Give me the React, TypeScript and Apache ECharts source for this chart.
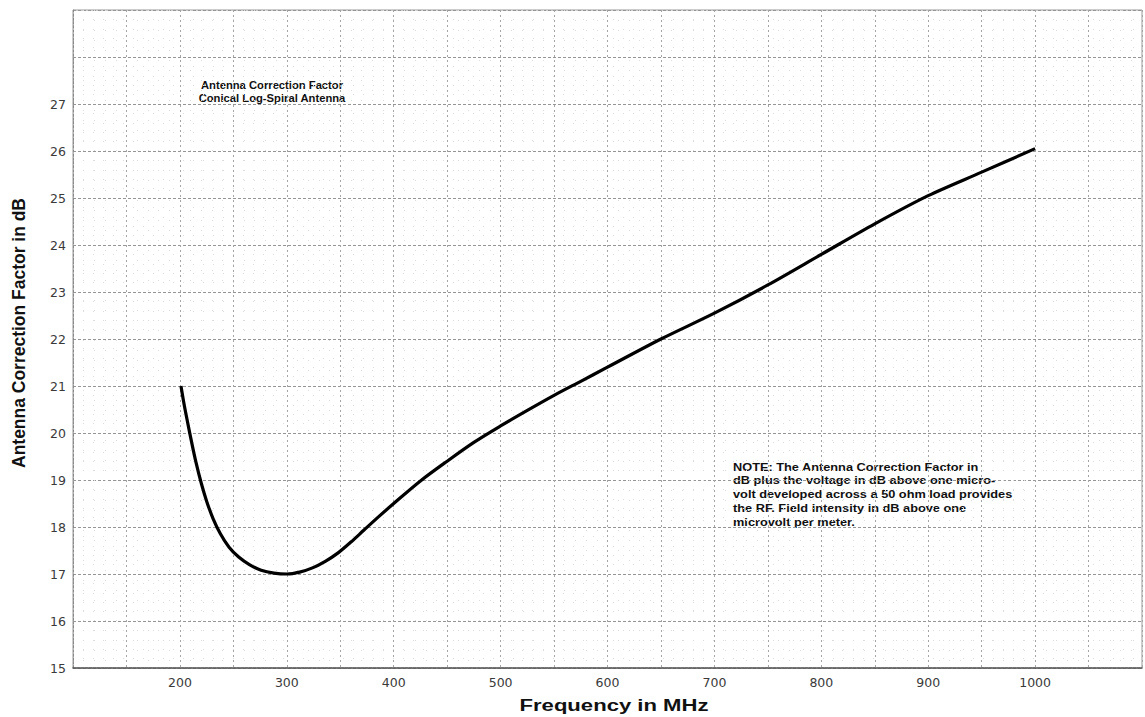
import React, { useEffect, useRef } from "react";
import * as echarts from "echarts";

// Frequency (MHz) and antenna correction factor (dB)
const freqMHz = [201, 204, 207, 211, 215, 220, 225, 231, 238, 246, 255, 265, 276, 288, 300, 312, 324, 336, 348, 360, 372, 386, 400, 425, 450, 475, 500, 525, 550, 575, 600, 650, 700, 750, 800, 850, 900, 950, 1000];
const acfDb = [21.0, 20.6, 20.25, 19.8, 19.38, 18.93, 18.55, 18.18, 17.85, 17.57, 17.36, 17.2, 17.08, 17.02, 17.0, 17.04, 17.13, 17.27, 17.45, 17.68, 17.93, 18.22, 18.5, 18.98, 19.4, 19.8, 20.15, 20.48, 20.8, 21.1, 21.4, 22.0, 22.55, 23.15, 23.8, 24.45, 25.05, 25.55, 26.05];

const xTickLabels = [200, 300, 400, 500, 600, 700, 800, 900, 1000];
const yTickLabels = [15, 16, 17, 18, 19, 20, 21, 22, 23, 24, 25, 26, 27];

const titleLines = ["Antenna Correction Factor", "Conical Log-Spiral Antenna"];
const noteLines = [
  "NOTE: The Antenna Correction Factor in",
  "dB plus the voltage in dB above one micro-",
  "volt developed across a 50 ohm load provides",
  "the RF. Field intensity in dB above one",
  "microvolt per meter.",
];
const xAxisTitle = "Frequency in MHz";
const yAxisTitle = "Antenna Correction Factor in dB";

export default function App() {
  const ref = useRef<HTMLDivElement>(null);
  useEffect(() => {
    if (!ref.current) return;
    const chart = echarts.init(ref.current, null, { renderer: "svg" });
    const font = "Liberation Sans, Arial, Helvetica, sans-serif";
    const data = freqMHz.map((f, i) => [f, acfDb[i]]);
    const graphics: any[] = [];
    titleLines.forEach((t, i) => {
      graphics.push({
        type: "text",
        x: 272,
        y: 85 + i * 13.5,
        scaleX: 1.02,
        style: { text: t, fill: "#111", font: `bold 11px ${font}`, textAlign: "center", textVerticalAlign: "middle" },
      });
    });
    noteLines.forEach((t, i) => {
      graphics.push({
        type: "text",
        x: 733,
        y: 467 + i * 13.8,
        scaleX: 1.16,
        style: { text: t, fill: "#111", font: `bold 11px ${font}`, textAlign: "left", textVerticalAlign: "middle" },
      });
    });
    graphics.push({
      type: "text",
      x: 614,
      y: 705,
      scaleX: 1.3,
      style: { text: xAxisTitle, fill: "#111", font: `bold 17px ${font}`, textAlign: "center", textVerticalAlign: "middle" },
    });
    graphics.push({
      type: "text",
      x: 18,
      y: 333,
      rotation: Math.PI / 2,
      scaleY: 1.1,
      style: { text: yAxisTitle, fill: "#111", font: `bold 17.5px ${font}`, textAlign: "center", textVerticalAlign: "middle" },
    });

    chart.setOption({
      animation: false,
      backgroundColor: "#ffffff",
      grid: { left: 73, right: 0, top: 10, bottom: 49, show: true, borderColor: "#999", borderWidth: 1 },
      xAxis: {
        type: "value",
        min: 100,
        max: 1100,
        interval: 50,
        axisLine: { show: true, lineStyle: { color: "#555", width: 1.5, type: [3, 1] } },
        axisTick: { show: false },
        axisLabel: {
          margin: 8,
          color: "#3a3a3a",
          fontFamily: "DejaVu Sans",
          fontSize: 12.5,
          formatter: (v: number) => (xTickLabels.includes(v) ? String(v) : ""),
        },
        splitLine: { show: true, lineStyle: { color: "#a5a5a5", width: 1, type: [2, 3] } },
        minorTick: { show: false, splitNumber: 5 },
        minorSplitLine: { show: true, lineStyle: { color: "#dcdcdc", width: 1, type: [1, 9] } },
      },
      yAxis: {
        type: "value",
        min: 15,
        max: 29,
        interval: 1,
        axisLine: { show: true, lineStyle: { color: "#888", width: 1, type: [2, 2] } },
        axisTick: { show: false },
        axisLabel: {
          margin: 7,
          color: "#3a3a3a",
          fontFamily: "DejaVu Sans",
          fontSize: 12.5,
          formatter: (v: number) => (yTickLabels.includes(v) ? String(v) : ""),
        },
        splitLine: { show: true, lineStyle: { color: "#959595", width: 1, type: [3, 2] } },
        minorTick: { show: false, splitNumber: 5 },
        minorSplitLine: { show: true, lineStyle: { color: "#dcdcdc", width: 1, type: [1, 9] } },
      },
      series: [
        {
          type: "line",
          data,
          smooth: 0.3,
          showSymbol: false,
          symbol: "none",
          lineStyle: { color: "#000", width: 3.2 },
        },
      ],
      graphic: graphics,
    });
    return () => chart.dispose();
  }, []);
  return (
    <div
      ref={ref}
      style={{ position: "absolute", left: 0, top: 0, width: 1145, height: 717, background: "#fff" }}
    />
  );
}
